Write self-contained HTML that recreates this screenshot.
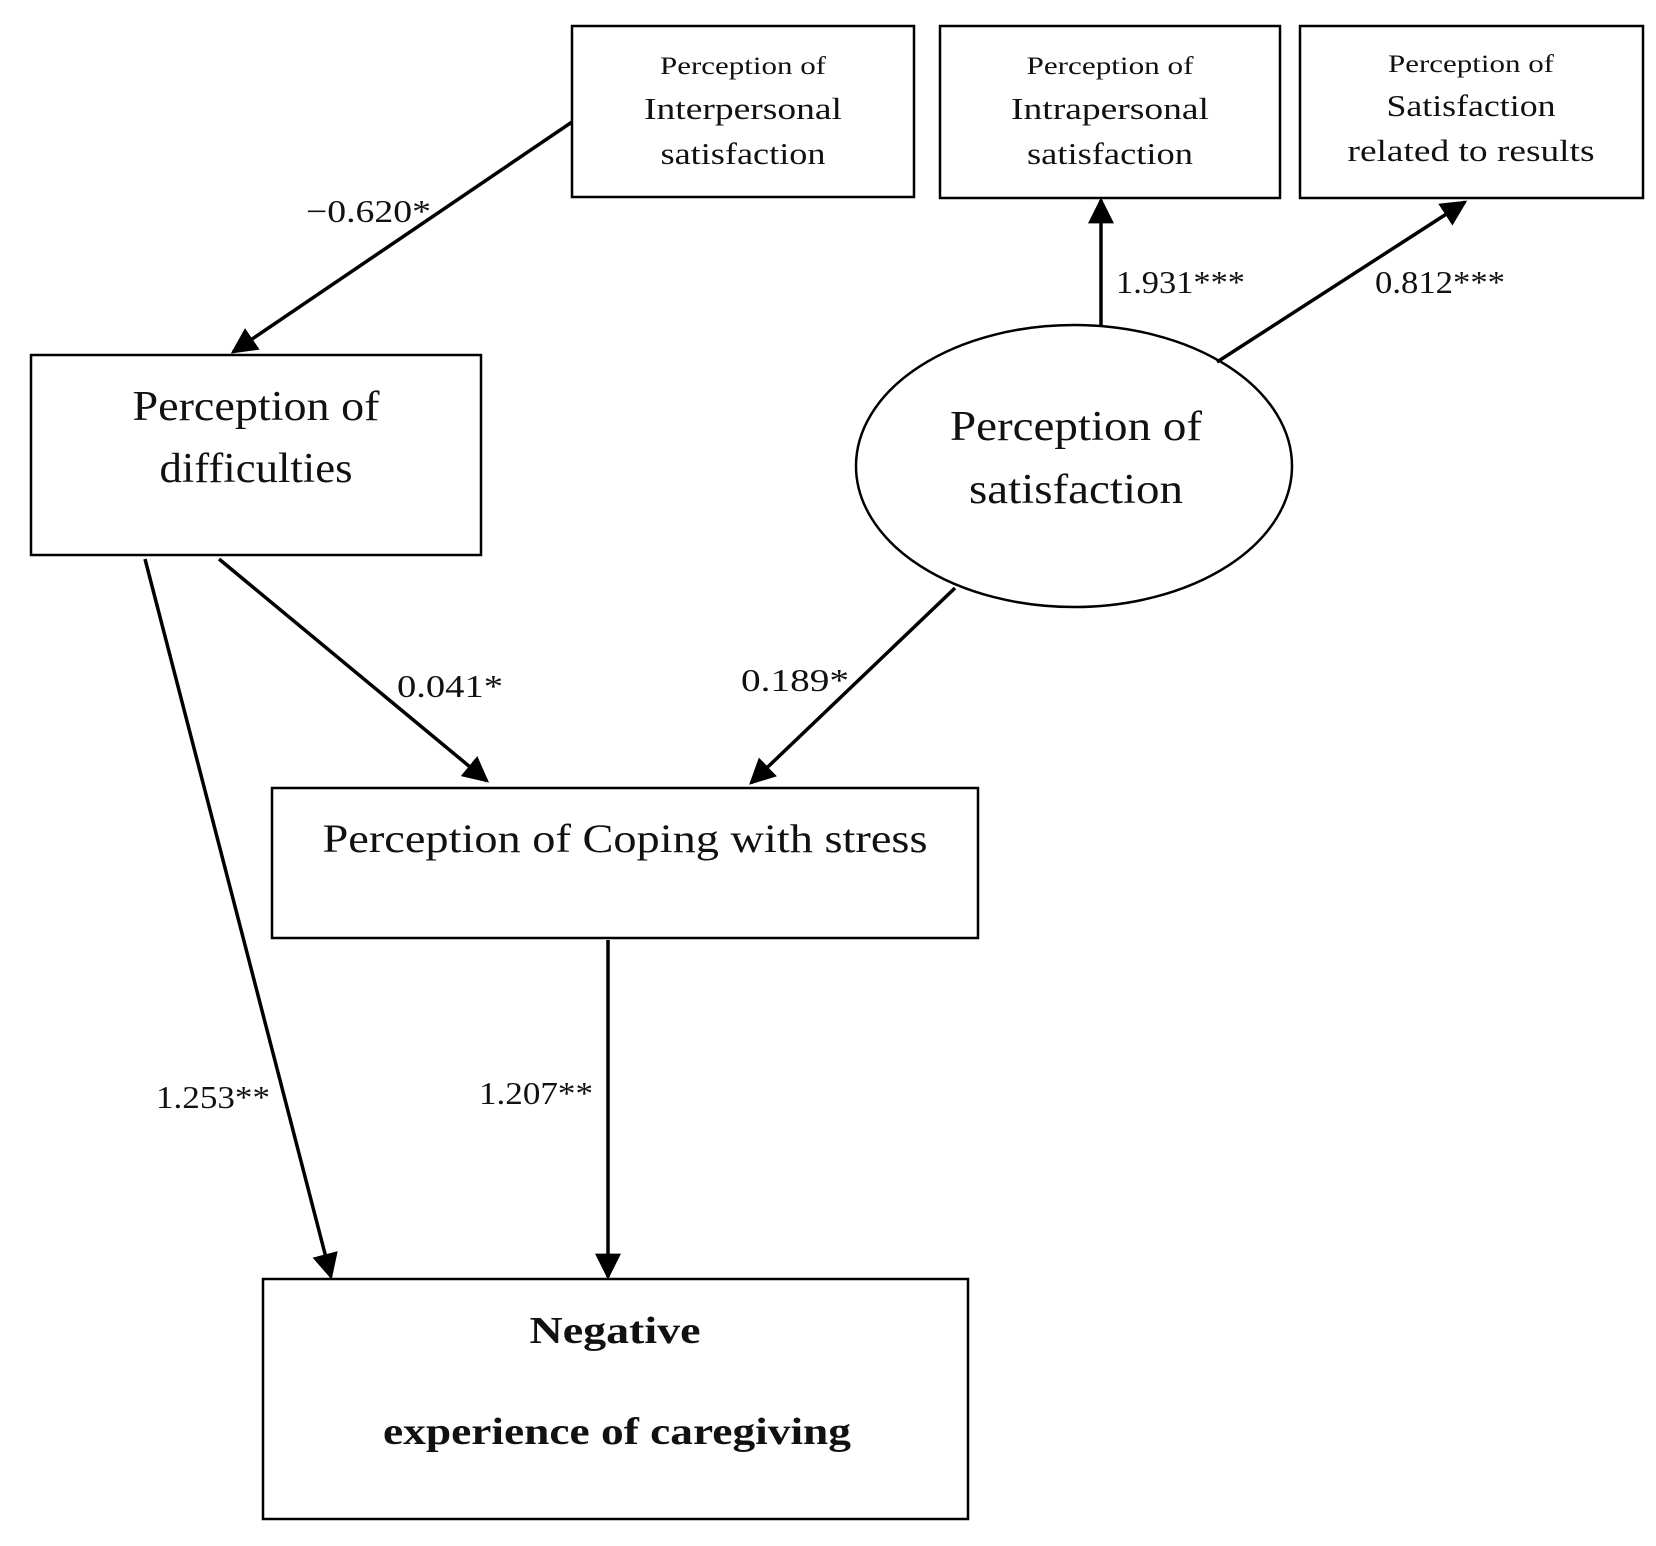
<!DOCTYPE html>
<html><head><style>html,body{margin:0;padding:0;background:#fff}svg{display:block}</style></head>
<body>
<svg width="1656" height="1546" viewBox="0 0 1656 1546" xmlns="http://www.w3.org/2000/svg" font-family="'Liberation Serif', serif" fill="#111">
<defs>
<marker id="ah" viewBox="0 0 10 10" refX="9" refY="5" markerWidth="26" markerHeight="26" markerUnits="userSpaceOnUse" orient="auto"><path d="M0,0 L10,5 L0,10 z" fill="#000"/></marker>
</defs>
<g fill="none" stroke="#000" stroke-width="2.5">
<rect x="572" y="26" width="342" height="171"/>
<rect x="940" y="26" width="340" height="172"/>
<rect x="1300" y="26" width="343" height="172"/>
<rect x="31" y="355" width="450" height="200"/>
<ellipse cx="1074" cy="466" rx="218" ry="141"/>
<rect x="272" y="788" width="706" height="150"/>
<rect x="263" y="1279" width="705" height="240"/>
</g>
<g stroke="#000" stroke-width="3.5" marker-end="url(#ah)">
<line x1="572" y1="122" x2="233" y2="352"/>
<line x1="1101" y1="326" x2="1101" y2="200"/>
<line x1="1217" y1="362" x2="1465" y2="202"/>
<line x1="219" y1="559" x2="487" y2="781"/>
<line x1="955" y1="588" x2="751" y2="783"/>
<line x1="145" y1="559" x2="331" y2="1277"/>
<line x1="608" y1="940" x2="608" y2="1277"/>
</g>
<g text-anchor="middle" lengthAdjust="spacingAndGlyphs">
<text x="743" y="74" font-size="25" textLength="166" lengthAdjust="spacingAndGlyphs">Perception of</text>
<text x="743" y="119" font-size="31" textLength="198" lengthAdjust="spacingAndGlyphs">Interpersonal</text>
<text x="743" y="164" font-size="31" textLength="165" lengthAdjust="spacingAndGlyphs">satisfaction</text>
<text x="1110" y="74" font-size="25" textLength="167" lengthAdjust="spacingAndGlyphs">Perception of</text>
<text x="1110" y="119" font-size="31" textLength="198" lengthAdjust="spacingAndGlyphs">Intrapersonal</text>
<text x="1110" y="164" font-size="31" textLength="166" lengthAdjust="spacingAndGlyphs">satisfaction</text>
<text x="1471" y="72" font-size="25" textLength="166" lengthAdjust="spacingAndGlyphs">Perception of</text>
<text x="1471" y="116" font-size="31" textLength="169" lengthAdjust="spacingAndGlyphs">Satisfaction</text>
<text x="1471" y="161" font-size="31" textLength="247" lengthAdjust="spacingAndGlyphs">related to results</text>
<text x="256" y="420" font-size="42" textLength="247" lengthAdjust="spacingAndGlyphs">Perception of</text>
<text x="256" y="482" font-size="42" textLength="193" lengthAdjust="spacingAndGlyphs">difficulties</text>
<text x="1076" y="440" font-size="42" textLength="252" lengthAdjust="spacingAndGlyphs">Perception of</text>
<text x="1076" y="503" font-size="42" textLength="214" lengthAdjust="spacingAndGlyphs">satisfaction</text>
<text x="625" y="852" font-size="40" textLength="605" lengthAdjust="spacingAndGlyphs">Perception of Coping with stress</text>
<text x="615" y="1343" font-size="38" font-weight="bold" textLength="171" lengthAdjust="spacingAndGlyphs">Negative</text>
<text x="617" y="1444" font-size="38" font-weight="bold" textLength="468" lengthAdjust="spacingAndGlyphs">experience of caregiving</text>
</g>
<g font-size="32">
<text x="306" y="222" textLength="125" lengthAdjust="spacingAndGlyphs">−0.620*</text>
<text x="1116" y="293" textLength="129" lengthAdjust="spacingAndGlyphs">1.931***</text>
<text x="1375" y="293" textLength="130" lengthAdjust="spacingAndGlyphs">0.812***</text>
<text x="397" y="697" textLength="106" lengthAdjust="spacingAndGlyphs">0.041*</text>
<text x="741" y="691" textLength="108" lengthAdjust="spacingAndGlyphs">0.189*</text>
<text x="156" y="1108" textLength="114" lengthAdjust="spacingAndGlyphs">1.253**</text>
<text x="479" y="1104" textLength="114" lengthAdjust="spacingAndGlyphs">1.207**</text>
</g>
</svg>
</body></html>
